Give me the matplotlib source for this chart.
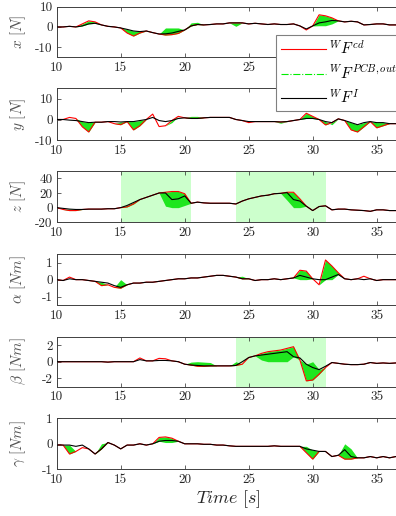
import matplotlib
matplotlib.use("Agg")
import matplotlib.pyplot as plt
from matplotlib.lines import Line2D
import numpy as np

plt.rcParams['font.family'] = 'cmr10'
plt.rcParams['mathtext.fontset'] = 'cm'
plt.rcParams['axes.unicode_minus'] = False
plt.rcParams['axes.formatter.use_mathtext'] = False

# sample times, every 0.5 s from 10 s to 36.5 s
t = np.arange(10, 36.51, 0.5)

# ---- x [N]
black_x = [0, 0, 0.3, 0, 0.5, 1.5, 1.8, 1, 0.3, 0,
           -0.5, -1.2, -2, -2.3, -2, -2.8, -3.5, -3.4, -3, -2.2,
           -1.5, 0.5, 1.2, 1, 1.2, 1.5, 1.5, 2, 2, 2,
           1.5, 1.8, 1.5, 1.2, 1.5, 1.2, 1.2, 1.5, 0.5, -1,
           0.5, 2, 2.5, 3.2, 3, 2.5, 2.8, 2.5, 1, 1.2,
           1.5, 1.5, 1, 1]
red_x = [0, 0, 0.3, 0, 1.5, 3, 2.5, 1, 0.3, 0,
         -0.5, -3, -4.5, -3, -2, -2.8, -3.5, -4, -3.8, -3.2,
         -1.5, 0.5, 1.2, 1, 1.2, 1.5, 1.5, 2, 2, 2,
         1.5, 1.8, 1.5, 1.2, 1.5, 1.2, 1.2, 1.5, 0.5, -1.5,
         0.5, 6, 5.5, 4.5, 3, 2.5, 2.8, 2.5, 1, 1.2,
         1.5, 1.5, 1, 1]
green_x = [0, 0, 0.3, 0, 0.5, 1.5, 1.8, 1, 0.3, 0,
           -0.5, -1.2, -2, -2.3, -2, -2.8, -3.5, -0.5, -0.5, -0.5,
           -1.5, 2, 2.3, 1, 1.2, 1.5, 1.5, 2, 0.3, 2,
           1.5, 1.8, 1.5, 1.2, 1.5, 1.2, 1.2, 1.5, 0.5, -1.5,
           0.5, 0.6, 0.6, 1.5, 3, 2.5, 2.8, 2.5, 1, 1.2,
           1.5, 1.5, 1, 1]

# ---- y [N]
black_y = [0, 0, -0.3, -0.5, -1, -1.5, -1.3, -1.3, -1, -1,
           -1.2, -1, -1, -0.5, 0, 1, -0.5, -1, -0.5, 0.5,
           0.8, 0.5, 0.5, 0.8, 1, 1, 1, 1, 0, -0.5,
           -1, -1, -1, -1, -1, -1.2, -1, -0.5, 0, 0.5,
           0.5, 0, -1, -1.5, 0.3, -0.5, -1.5, -2.5, -1.5, -1,
           -1.5, -1.5, -2, -2]
red_y = [0, 0, 1, 0.5, -3.5, -6, -1.3, -1.3, -1, -2,
         -2.5, -1, -5, -3, 0, 2.6, -3.4, -3, -0.5, 1.5,
         0.8, 0.5, 0.5, 0.8, 1, 1, 1, 1, 0, -0.5,
         -1.5, -1, -1, -1, -1, -1.2, -1, -0.5, 0, 3,
         1.5, 0, -2.6, -1.5, 0.3, -0.5, -5, -6, -3.5, -1,
         -4, -3, -2, -2]
green_y = [0, 0, 1, 0.5, -1, -1.5, -1.3, -1.3, -1, -2,
           -1.2, -1, -1, -0.5, 0, 2.6, -3.4, -3, -1.5, 1.5,
           0.8, 1.5, 1.5, 0.8, 1, 1, 1, 1, 0, -0.5,
           -1.5, -1, -1, -1, -1, -1.8, -1, -0.5, 0, 0.5,
           0.5, 0, -1, -2.5, 0.3, -0.5, -1.5, -2.5, -1.5, -1,
           -1.5, -1.5, -2, -2]

# ---- z [N]
black_z = [0, -1, -2, -2.5, -2.5, -2, -2, -2, -1.5, -1.5,
           0, 3, 7, 11, 14, 17, 20, 20, 11, 12,
           16, 6, 7.5, 6.5, 6, 6, 6, 6, 5, 9,
           12, 14, 16, 17, 19, 19.5, 20.5, 11, 9, 2,
           -4, 1.5, 2.5, -3, -2, -2, -3, -3.5, -4, -5,
           -3, -3, -4, -4]
red_z = [0, -2.5, -4, -4, -2.5, -2, -2, -2, -1.5, -1.5,
         0, 1, 5, 11, 14, 17, 20, 21, 22, 22,
         19, 6, 7.5, 6.5, 6, 6, 6, 6, 5, 9,
         12, 14, 16, 17, 19, 19.5, 21, 21, 12, 2,
         -4, 1.5, 2.5, -3, -2, -2, -3, -3.5, -4, -5,
         -3, -3, -4, -4]
green_z = [0, -2.5, -2, -2.5, -2.5, -2, -2, -2, -1.5, -1.5,
           0, 3, 7, 11, 14, 17, 20, 2, 0, 0,
           3, 6, 7.5, 6.5, 6, 6, 6, 6, 5, 9,
           12, 14, 16, 17, 19, 19.5, 10, 0, 0, 2,
           -4, 1.5, 2.5, -3, -2, -2, -3, -3.5, -4, -5,
           -3, -3, -4, -4]

# ---- alpha [Nm]
black_a = [0, -0.05, 0.05, 0, 0, -0.05, -0.1, -0.15, -0.2, -0.35,
           -0.45, -0.3, -0.2, -0.2, -0.15, -0.15, -0.1, -0.05, 0, 0.05,
           0.05, 0.1, 0.1, 0.15, 0.2, 0.25, 0.25, 0.2, 0.15, 0.05,
           0.05, -0.05, 0, 0, 0.05, 0, 0.05, 0.1, 0.25, 0.15,
           0.05, 0, 0, 0.15, 0.3, 0.05, 0, 0.05, 0, 0.05,
           -0.05, 0, 0, 0]
red_a = [0, -0.05, 0.15, 0, 0, -0.05, -0.1, -0.35, -0.3, -0.45,
         -0.5, -0.3, -0.2, -0.2, -0.15, -0.15, -0.1, -0.05, 0, 0.05,
         0.05, 0.1, 0.1, 0.15, 0.2, 0.25, 0.25, 0.2, 0.15, 0.05,
         0.05, -0.05, 0, 0, 0.05, 0, 0.05, 0.1, 0.55, 0.5,
         0.05, -0.3, 1.15, 0.8, 0.4, 0.05, 0, 0.05, 0.2, 0.05,
         -0.05, 0, 0, 0]
green_a = [0, -0.05, 0.15, 0, 0, -0.05, -0.1, -0.15, -0.3, -0.45,
           0, -0.3, -0.2, -0.2, -0.15, -0.15, -0.1, -0.05, 0, 0.05,
           0.05, 0.1, 0.1, 0.15, 0.2, 0.25, 0.25, 0.2, 0.15, 0.2,
           0.05, -0.05, 0, 0, 0.05, 0, 0.05, 0.1, 0, 0,
           0.05, -0.3, 0, 0, 0.3, 0.05, 0, 0.05, 0.2, 0.05,
           -0.05, 0, 0, 0]

# ---- beta [Nm]
black_b = [0, 0, 0, 0, 0, 0, 0, 0, -0.05, 0,
           0, 0, 0, 0.25, 0.1, 0.1, 0.15, 0.15, 0.1, 0,
           -0.3, -0.4, -0.45, -0.5, -0.5, -0.5, -0.5, -0.5, -0.45, 0,
           0.5, 0.7, 0.8, 0.9, 1, 1.1, 1.2, 0.6, 0.45, -0.3,
           -0.7, -0.95, -0.55, -0.1, -0.2, -0.3, -0.35, -0.35, -0.3, -0.1,
           -0.2, -0.15, -0.2, -0.15]
red_b = [0, 0, 0, 0, 0, 0, 0, 0, -0.05, 0,
         0, 0, 0, 0.45, 0.1, 0.1, 0.4, 0.35, 0.1, 0,
         -0.3, -0.4, -0.55, -0.55, -0.5, -0.5, -0.5, -0.5, -0.45, -0.3,
         0.5, 0.7, 1.0, 1.2, 1.3, 1.4, 1.6, 1.8, 0.2, -2.3,
         -2.2, -1.5, -0.7, -0.1, -0.2, -0.3, -0.35, -0.35, -0.3, -0.1,
         -0.2, -0.15, -0.2, -0.15]
green_b = [0, 0, 0, 0, 0, 0, 0, 0, -0.05, 0,
           0, 0, 0, 0.45, 0.1, 0.1, 0.4, 0.35, 0.1, 0,
           -0.3, -0.05, 0, -0.05, -0.1, -0.5, -0.5, -0.5, 0, -0.3,
           0.5, 0.7, 0.2, 0, 0, 0, 0, 0.6, 0.2, -0.3,
           0, -0.95, -0.7, -0.1, -0.2, -0.3, -0.35, -0.35, -0.3, -0.1,
           -0.2, -0.15, -0.2, -0.15]

# ---- gamma [Nm]
black_g = [-0.05, -0.05, -0.05, -0.1, -0.05, -0.2, -0.4, -0.2, 0.05, -0.05,
           -0.2, -0.05, -0.05, 0, -0.05, 0, 0.1, 0.13, 0.13, 0.1,
           0, 0, 0, -0.02, -0.02, -0.05, -0.05, -0.08, -0.1, -0.1,
           -0.1, -0.1, -0.1, -0.1, -0.08, -0.1, -0.1, -0.1, -0.1, -0.2,
           -0.25, -0.3, -0.3, -0.5, -0.45, -0.23, -0.5, -0.55, -0.55, -0.5,
           -0.55, -0.5, -0.55, -0.5]
red_g = [-0.05, -0.05, -0.4, -0.3, -0.15, -0.2, -0.4, -0.2, 0.05, -0.05,
         -0.2, -0.05, -0.05, 0, -0.05, 0, 0.25, 0.27, 0.22, 0.1,
         0, 0, 0, -0.02, -0.02, -0.05, -0.05, -0.08, -0.1, -0.1,
         -0.1, -0.1, -0.1, -0.1, -0.08, -0.1, -0.1, -0.1, -0.1, -0.35,
         -0.6, -0.3, -0.3, -0.5, -0.45, -0.6, -0.6, -0.55, -0.55, -0.5,
         -0.55, -0.5, -0.55, -0.5]
green_g = [-0.05, -0.05, -0.05, -0.3, -0.15, -0.2, -0.4, 0, 0.05, -0.05,
           -0.2, -0.05, -0.05, 0, -0.05, 0, 0.1, 0.05, 0.05, 0.1,
           0, 0, 0, -0.02, -0.02, -0.05, -0.05, -0.08, -0.1, -0.1,
           -0.1, -0.1, -0.1, -0.1, -0.08, -0.1, -0.1, -0.1, -0.1, -0.1,
           -0.25, -0.3, -0.3, -0.5, -0.45, 0, -0.2, -0.55, -0.55, -0.5,
           -0.55, -0.5, -0.55, -0.5]

ylabels = [r'$x\ [N]$', r'$y\ [N]$', r'$z\ [N]$',
           r'$\alpha\ [Nm]$', r'$\beta\ [Nm]$', r'$\gamma\ [Nm]$']
ylims = [(-15, 10), (-10, 15), (-20, 50), (-1.5, 1.5), (-3, 3), (-1, 1)]
yticks = [[-10, 0, 10], [-10, 0, 10], [-20, 0, 20, 40],
          [-1, 0, 1], [-2, 0, 2], [-1, 0, 1]]
# shaded contact windows (start, end) per panel
spans = [[], [], [(15, 20.5), (24, 31)], [], [(24, 31)], []]

blacks = [black_x, black_y, black_z, black_a, black_b, black_g]
reds = [red_x, red_y, red_z, red_a, red_b, red_g]
greens = [green_x, green_y, green_z, green_a, green_b, green_g]

# panel top / bottom in pixels
rows = [(6.7, 57.3), (88.3, 140.3), (171, 222.3),
        (254, 305.3), (336.7, 386.7), (418.3, 469.3)]

W, H = 396, 516
fig = plt.figure(figsize=(W / 100, H / 100), dpi=100)
left = 56.7
right = 400
grey = '#262626'

for i in range(6):
    top, bot = rows[i]
    ax = fig.add_axes([left / W, 1 - bot / H, (right - left) / W, (bot - top) / H])
    for a, b in spans[i]:
        ax.axvspan(a, b, color='#ccffcc', lw=0, zorder=0)
    ax.fill_between(t, greens[i], reds[i], color='#1ee61e', lw=0, zorder=1)
    ax.plot(t, reds[i], color='#ff0000', lw=0.8, zorder=2)
    ax.plot(t, blacks[i], color='black', lw=0.8, zorder=3)
    ax.set_xlim(10, 10 + (right - left) / 12.8)
    ax.set_ylim(*ylims[i])
    ax.set_xticks([10, 15, 20, 25, 30, 35])
    ax.set_yticks(yticks[i])
    ax.tick_params(direction='in', length=3, width=0.5, labelsize=9.5,
                   colors=grey, top=True, pad=3)
    for s in ax.spines.values():
        s.set_color('#404040')
        s.set_linewidth(0.7)
    ax.set_ylabel(ylabels[i], fontsize=11, color='#555555', va='center')
    ax.yaxis.set_label_coords((18 - left) / (right - left), 0.5)
    if i == 5:
        ax.set_xlabel(r'$Time\ [s]$', fontsize=13, color=grey, labelpad=2)

handles = [Line2D([], [], color='#ff0000', lw=0.8),
           Line2D([], [], color='#00ee00', lw=0.8, ls='-.'),
           Line2D([], [], color='black', lw=0.8)]
labels = [r'${}^{W}F^{cd}$', r'${}^{W}F^{PCB,out}$', r'${}^{W}F^{I}$']
leg = fig.legend(handles, labels, loc='upper left',
                 bbox_to_anchor=(276 / W, 1 - 35 / H), borderaxespad=0,
                 fontsize=11, fancybox=False, framealpha=1, edgecolor='#808080',
                 handlelength=3.0, handletextpad=0.2, labelspacing=0.4,
                 borderpad=0.3)
leg.get_frame().set_linewidth(0.8)

fig.savefig('out.png', dpi=100)
